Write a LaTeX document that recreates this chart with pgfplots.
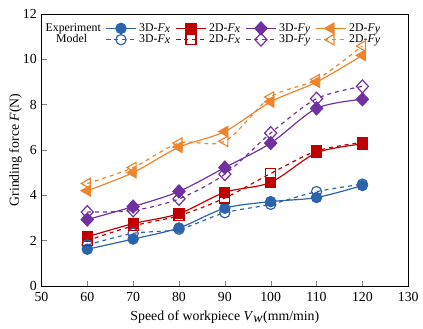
\documentclass[border=0pt]{standalone}
\usepackage{pgfplots}
\pgfplotsset{compat=1.18}
\usepackage{fontspec}
\setmainfont{Liberation Serif}
\definecolor{cblue}{HTML}{2B63AD}
\definecolor{cred}{HTML}{C00000}
\definecolor{cpurple}{HTML}{7030A0}
\definecolor{corange}{HTML}{F0842C}
\begin{document}
\begin{tikzpicture}
\begin{axis}[
  name=ax,
  scale only axis,
  width=279pt, height=207pt,
  xmin=50, xmax=130, ymin=0, ymax=12,
  xtick={50,60,...,130}, ytick={0,2,...,12},
  tick align=inside, xtick pos=bottom, ytick pos=left,
  major tick length=4pt,
  /pgf/number format/assume math mode=true,
  tick label style={font=\fontsize{10.5}{12}\selectfont},
  xticklabel style={yshift=-1pt},
  label style={font=\fontsize{10.5}{12}\selectfont},
  xlabel={Speed of workpiece \textit{V}$_{\textit{w}}$(mm/min)},
  ylabel={Grinding force \textit{F}(N)},
  xlabel style={yshift=-0.5pt},
  ylabel style={yshift=-6pt},
  legend columns=5,
  legend style={draw=none, fill=none, at={(0.0,0.98)}, anchor=north west,
    font=\fontsize{9}{10}\selectfont, row sep=-3pt, inner sep=1pt,
    /tikz/every even column/.append style={column sep=1.5pt}},
  legend image code/.code={\draw[mark repeat=2,mark phase=2] plot coordinates {(0cm,0cm) (0.4cm,0cm) (0.8cm,0cm)};},
  legend cell align=left,
  every axis plot/.append style={smooth, line width=0.9pt},
  mark size=3.9pt,
]
\addlegendimage{empty legend}\addlegendentry{Experiment}
\addplot[cblue, mark=*, mark options={solid, fill=cblue}] coordinates {(60,1.62) (70,2.07) (80,2.56) (90,3.43) (100,3.72) (110,3.90) (120,4.43)};
\addlegendentry{3D-\textit{F}$_{\textit{x}}$}
\addplot[cred, mark=square*, mark size=3.8pt, mark options={solid, fill=cred}] coordinates {(60,2.17) (70,2.75) (80,3.19) (90,4.13) (100,4.57) (110,5.87) (120,6.26)};
\addlegendentry{2D-\textit{F}$_{\textit{x}}$}
\addplot[cpurple, mark=diamond*, mark size=4.9pt, mark options={solid, fill=cpurple, xscale=1.25}] coordinates {(60,2.93) (70,3.50) (80,4.17) (90,5.22) (100,6.30) (110,7.83) (120,8.23)};
\addlegendentry{3D-\textit{F}$_{\textit{y}}$}
\addplot[corange, mark=triangle*, mark size=4.6pt, mark options={solid, fill=corange, rotate=90}] coordinates {(60,4.20) (70,5.00) (80,6.12) (90,6.81) (100,8.12) (110,8.99) (120,10.17)};
\addlegendentry{2D-\textit{F}$_{\textit{y}}$}
\addlegendimage{empty legend}\addlegendentry{\hspace{8pt}Model}
\addplot[cblue, dashed, mark=o, mark options={solid, fill=white}] coordinates {(60,1.81) (70,2.32) (80,2.50) (90,3.23) (100,3.60) (110,4.16) (120,4.49)};
\addlegendentry{3D-\textit{F}$_{\textit{x}}$}
\addplot[cred, dashed, mark=square, mark size=3.8pt, mark options={solid}] coordinates {(60,2.00) (70,2.65) (80,3.10) (90,3.88) (100,4.96) (110,5.95) (120,6.33)};
\addlegendentry{2D-\textit{F}$_{\textit{x}}$}
\addplot[cpurple, dashed, mark=diamond, mark size=4.9pt, mark options={solid, xscale=1.25}] coordinates {(60,3.26) (70,3.33) (80,3.84) (90,4.93) (100,6.74) (110,8.26) (120,8.80)};
\addlegendentry{3D-\textit{F}$_{\textit{y}}$}
\addplot[corange, dashed, mark=triangle, mark size=4.6pt, mark options={solid, rotate=90}] coordinates {(60,4.52) (70,5.22) (80,6.30) (90,6.38) (100,8.33) (110,9.10) (120,10.58)};
\addlegendentry{2D-\textit{F}$_{\textit{y}}$}
\end{axis}
\path ([xshift=-31.5pt,yshift=10.5pt]ax.north west) rectangle ([xshift=7pt,yshift=-32pt]ax.south east);
\end{tikzpicture}
\end{document}
